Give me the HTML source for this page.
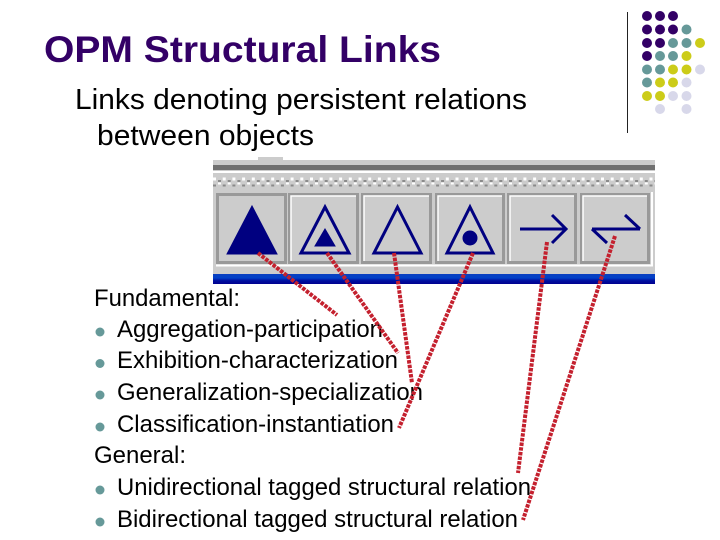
<!DOCTYPE html>
<html><head><meta charset="utf-8"><style>
html,body{margin:0;padding:0;background:#fff}
svg{display:block}
text{font-family:"Liberation Sans",Arial,sans-serif;fill:#000}
.b{font-size:24px}
.s{font-size:29px}
</style></head><body>
<svg width="720" height="540" viewBox="0 0 720 540" xmlns="http://www.w3.org/2000/svg">
<rect width="720" height="540" fill="#fff"/>
<text x="44" y="62" style="font-size:37px;font-weight:bold;fill:#330066" textLength="397" lengthAdjust="spacingAndGlyphs">OPM Structural Links</text>
<text class="s" x="75" y="109" textLength="452" lengthAdjust="spacingAndGlyphs">Links denoting persistent relations</text>
<text class="s" x="97" y="145" textLength="217" lengthAdjust="spacingAndGlyphs">between objects</text>

<line x1="627.5" y1="12" x2="627.5" y2="133" stroke="#222" stroke-width="1"/>
<g fill="#330066">
<circle cx="647" cy="16" r="5"/><circle cx="660" cy="16" r="5"/><circle cx="673" cy="16" r="5"/>
<circle cx="647" cy="29.5" r="5"/><circle cx="660" cy="29.5" r="5"/><circle cx="673" cy="29.5" r="5"/>
<circle cx="647" cy="43" r="5"/><circle cx="660" cy="43" r="5"/>
<circle cx="647" cy="56" r="5"/>
</g>
<g fill="#669999">
<circle cx="686.5" cy="29.5" r="5"/>
<circle cx="673" cy="43" r="5"/><circle cx="686.5" cy="43" r="5"/>
<circle cx="660" cy="56" r="5"/><circle cx="673" cy="56" r="5"/>
<circle cx="647" cy="69.5" r="5"/><circle cx="660" cy="69.5" r="5"/>
<circle cx="647" cy="82.5" r="5"/>
</g>
<g fill="#cccc19">
<circle cx="700" cy="43" r="5"/>
<circle cx="686.5" cy="56" r="5"/>
<circle cx="673" cy="69.5" r="5"/><circle cx="686.5" cy="69.5" r="5"/>
<circle cx="660" cy="82.5" r="5"/><circle cx="673" cy="82.5" r="5"/>
<circle cx="647" cy="96" r="5"/><circle cx="660" cy="96" r="5"/>
</g>
<g fill="#d8d8ea">
<circle cx="700" cy="69.5" r="5"/>
<circle cx="686.5" cy="82.5" r="5"/>
<circle cx="673" cy="96" r="5"/><circle cx="686.5" cy="96" r="5"/>
<circle cx="660" cy="109" r="5"/><circle cx="686.5" cy="109" r="5"/>
</g>

<!-- toolbar -->
<rect x="258" y="157" width="25" height="4" fill="#cccccc"/>
<rect x="213" y="160" width="442" height="114" fill="#cccccc"/>
<rect x="213" y="165" width="442" height="5" fill="#707070"/>
<rect x="213" y="171" width="442" height="2" fill="#ffffff"/>
<line x1="213" y1="179" x2="655" y2="179" stroke="#fff" stroke-width="3" stroke-dasharray="3 6.700"/>
<line x1="218" y1="181" x2="655" y2="181" stroke="#8a8a8a" stroke-width="2" stroke-dasharray="3 6.700"/>
<line x1="218" y1="183.500" x2="655" y2="183.500" stroke="#fff" stroke-width="2" stroke-dasharray="3 6.700"/>
<line x1="213" y1="185.500" x2="655" y2="185.500" stroke="#8a8a8a" stroke-width="2" stroke-dasharray="3 6.700"/>
<rect x="216" y="264.500" width="437" height="2" fill="#fff"/>
<rect x="651" y="192" width="2" height="74" fill="#fff"/>
<g fill="#cccccc" stroke="#999999" stroke-width="3">
<rect x="217.500" y="194.500" width="68" height="68"/>
<rect x="289.500" y="194.500" width="68" height="68"/>
<rect x="362.500" y="194.500" width="68" height="68"/>
<rect x="436.500" y="194.500" width="67" height="68"/>
<rect x="508.500" y="194.500" width="67" height="68"/>
<rect x="581.500" y="194.500" width="67" height="68"/>
</g>
<g stroke="#fff" stroke-width="1.500" fill="none">
<path d="M291 261V196H356"/>
<path d="M364 261V196H429"/>
<path d="M438 261V196H502"/>
<path d="M510 261V196H574"/>
<path d="M583 261V196H647"/>
</g>
<defs><linearGradient id="bl" x1="0" y1="0" x2="0" y2="1">
<stop offset="0" stop-color="#0a3fc0"/><stop offset=".4" stop-color="#0040c8"/><stop offset=".65" stop-color="#0010a0"/><stop offset="1" stop-color="#000090"/>
</linearGradient></defs>
<rect x="213" y="274" width="442" height="10" fill="url(#bl)"/>

<g fill="#000080" stroke="#000080" stroke-linejoin="miter">
<path d="M252 206L277 254H227Z" stroke-width="1"/>
<path d="M325 207L349 253H301Z" fill="none" stroke-width="3"/>
<path d="M325 229L335 246H315Z" stroke-width="1"/>
<path d="M397.500 207L421 253H374Z" fill="none" stroke-width="3"/>
<path d="M470 207L493 253H447Z" fill="none" stroke-width="3"/>
<circle cx="470" cy="238" r="7.500" stroke-width="0"/>
<path d="M520 229H566M552 215L566 229L552 243" fill="none" stroke-width="3"/>
<path d="M592 229H640M625 215L640 229M592 229L607 243" fill="none" stroke-width="3"/>
</g>

<!-- body text -->
<text class="b" x="94" y="306" textLength="146" lengthAdjust="spacingAndGlyphs">Fundamental:</text>
<text class="b" x="117" y="337" textLength="266" lengthAdjust="spacingAndGlyphs">Aggregation-participation</text>
<text class="b" x="117" y="368" textLength="281" lengthAdjust="spacingAndGlyphs">Exhibition-characterization</text>
<text class="b" x="117" y="400" textLength="306" lengthAdjust="spacingAndGlyphs">Generalization-specialization</text>
<text class="b" x="117" y="432" textLength="277" lengthAdjust="spacingAndGlyphs">Classification-instantiation</text>
<text class="b" x="94" y="463" textLength="92" lengthAdjust="spacingAndGlyphs">General:</text>
<text class="b" x="117" y="495" textLength="414" lengthAdjust="spacingAndGlyphs">Unidirectional tagged structural relation</text>
<text class="b" x="117" y="527" textLength="401" lengthAdjust="spacingAndGlyphs">Bidirectional tagged structural relation</text>
<g fill="#669999">
<circle cx="100" cy="332" r="4.500"/>
<circle cx="100" cy="363.500" r="4.500"/>
<circle cx="100" cy="395" r="4.500"/>
<circle cx="100" cy="427" r="4.500"/>
<circle cx="100" cy="490" r="4.500"/>
<circle cx="100" cy="522" r="4.500"/>
</g>

<!-- callout lines -->
<g stroke="#c4202e" stroke-width="4" stroke-dasharray="3.500 1.200" fill="none">
<line x1="258" y1="253" x2="337" y2="315"/>
<line x1="327" y1="253" x2="398" y2="353"/>
<line x1="394" y1="253" x2="412" y2="383"/>
<line x1="473" y1="253" x2="399" y2="428"/>
<line x1="547" y1="242" x2="518" y2="473"/>
<line x1="615" y1="236" x2="523" y2="520"/>
</g>
</svg>
</body></html>
